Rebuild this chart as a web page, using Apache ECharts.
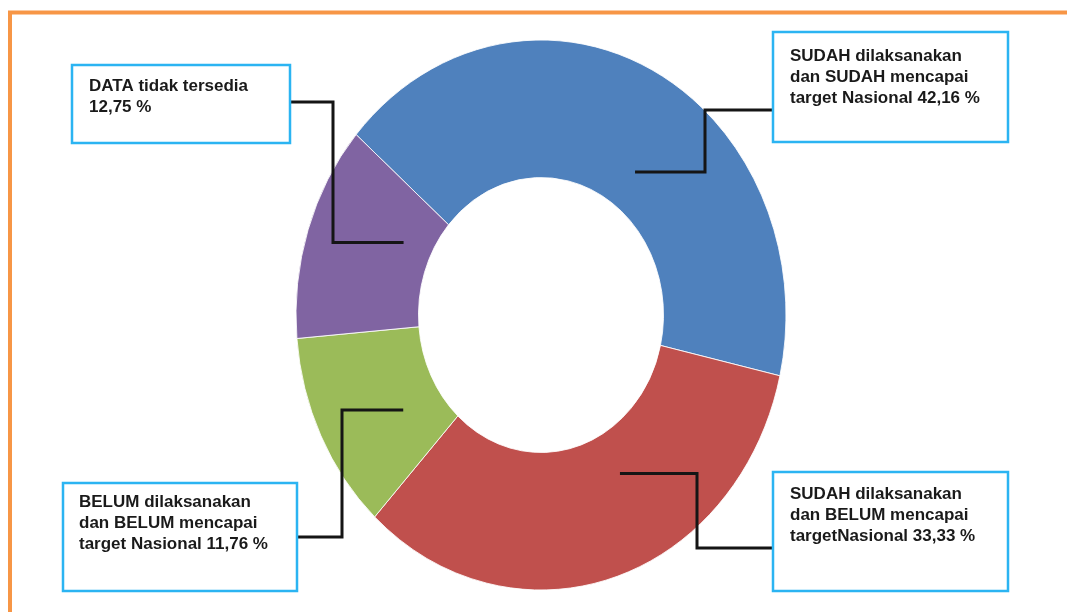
<!DOCTYPE html>
<html>
<head>
<meta charset="utf-8">
<script src="https://cdn.jsdelivr.net/npm/echarts@6/dist/echarts.min.js"></script>
<style>
  html, body { margin: 0; padding: 0; background: #fff; }
  #chart { width: 1067px; height: 612px; }
</style>
</head>
<body>
<div id="chart"></div>
<script>
// Status categories and their shares (percent)
const categories = [
  'SUDAH dilaksanakan dan SUDAH mencapai target Nasional',
  'SUDAH dilaksanakan dan BELUM mencapai target Nasional',
  'BELUM dilaksanakan dan BELUM mencapai target Nasional',
  'DATA tidak tersedia'
];
const values = [42.16, 33.33, 11.76, 12.75];

// Callout text lines; the value is appended to the last line
const calloutLines = [
  ['SUDAH dilaksanakan', 'dan SUDAH mencapai', 'target Nasional'],
  ['SUDAH dilaksanakan', 'dan BELUM mencapai', 'targetNasional'],
  ['BELUM dilaksanakan', 'dan BELUM mencapai', 'target Nasional'],
  ['DATA tidak tersedia', '']
];

// Slice colours
const colors = ['#4F81BD', '#C0504D', '#9BBB59', '#8064A2'];

// Ring geometry (the ring is drawn slightly taller than wide)
const ring = { cx: 541, cy: 315, rx: 245, ry: 275, inner: 0.5, startDeg: -49 };

// Callout boxes and elbow leader lines
const callouts = [
  { x: 773, y: 32,  w: 235, h: 110, side: 'left',  ly: 110, ex: 705, tx: 790, ty: 46,  angFrac: 0.563, rFrac: 0.646 },
  { x: 773, y: 472, w: 235, h: 119, side: 'left',  ly: 548, ex: 697, tx: 790, ty: 484, angFrac: 0.40,  rFrac: 0.66 },
  { x: 63,  y: 483, w: 234, h: 108, side: 'right', ly: 537, ex: 342, tx: 79,  ty: 492, angFrac: 0.37,  rFrac: 0.66 },
  { x: 72,  y: 65,  w: 218, h: 78,  side: 'right', ly: 102, ex: 333, tx: 89,  ty: 76,  angFrac: 0.656, rFrac: 0.62 }
];

const total = values.reduce((a, b) => a + b, 0);
const fmt = v => v.toFixed(2).replace('.', ',');

function calloutText(i) {
  const lines = calloutLines[i].slice();
  const last = lines.pop();
  lines.push((last ? last + ' ' : '') + fmt(values[i]) + ' %');
  return lines.join('\n');
}

function renderItem(params, api) {
  const i = params.dataIndex;
  const v = api.value(0);
  let before = 0;
  for (let k = 0; k < i; k++) before += values[k];
  const a0 = ring.startDeg + before / total * 360;
  const a1 = a0 + v / total * 360;
  const toRad = d => (d - 90) * Math.PI / 180;
  const c = callouts[i];

  // anchor of the leader line inside the slice
  const am = (a0 + (a1 - a0) * c.angFrac) * Math.PI / 180;
  const axp = ring.cx + ring.rx * c.rFrac * Math.sin(am);
  const ayp = ring.cy - ring.ry * c.rFrac * Math.cos(am);
  const bx = c.side === 'left' ? c.x : c.x + c.w;

  return {
    type: 'group',
    children: [
      {
        type: 'sector',
        x: ring.cx, y: ring.cy,
        scaleX: 1, scaleY: ring.ry / ring.rx,
        shape: {
          cx: 0, cy: 0,
          r: ring.rx, r0: ring.rx * ring.inner,
          startAngle: toRad(a0), endAngle: toRad(a1),
          clockwise: true
        },
        style: { fill: colors[i], stroke: '#ffffff', lineWidth: 0.8 },
        z2: 0
      },
      {
        type: 'polyline',
        shape: { points: [[bx, c.ly], [c.ex, c.ly], [c.ex, ayp], [axp, ayp]] },
        style: { stroke: '#151515', lineWidth: 3, fill: null, lineJoin: 'miter' },
        z2: 10
      },
      {
        type: 'rect',
        shape: { x: c.x, y: c.y, width: c.w, height: c.h },
        style: { fill: '#ffffff', stroke: '#2BB4F2', lineWidth: 2.5 },
        z2: 20
      },
      {
        type: 'text',
        x: c.tx, y: c.ty,
        style: {
          text: calloutText(i),
          font: 'bold 17px "Liberation Sans", Arial, sans-serif',
          lineHeight: 21,
          fill: '#1a1a1a',
          align: 'left', verticalAlign: 'top',
          textAlign: 'left', textVerticalAlign: 'top'
        },
        z2: 30
      }
    ]
  };
}

const chart = echarts.init(document.getElementById('chart'));
chart.setOption({
  backgroundColor: '#ffffff',
  animation: false,
  graphic: [
    {
      type: 'polyline',
      shape: { points: [[10, 612], [10, 12.5], [1067, 12.5]] },
      style: { stroke: '#F79646', lineWidth: 4, fill: null },
      z: 0
    }
  ],
  series: [{
    type: 'custom',
    coordinateSystem: 'none',
    renderItem: renderItem,
    data: values.map((v, i) => ({ name: categories[i], value: [v] }))
  }]
});
</script>
</body>
</html>
